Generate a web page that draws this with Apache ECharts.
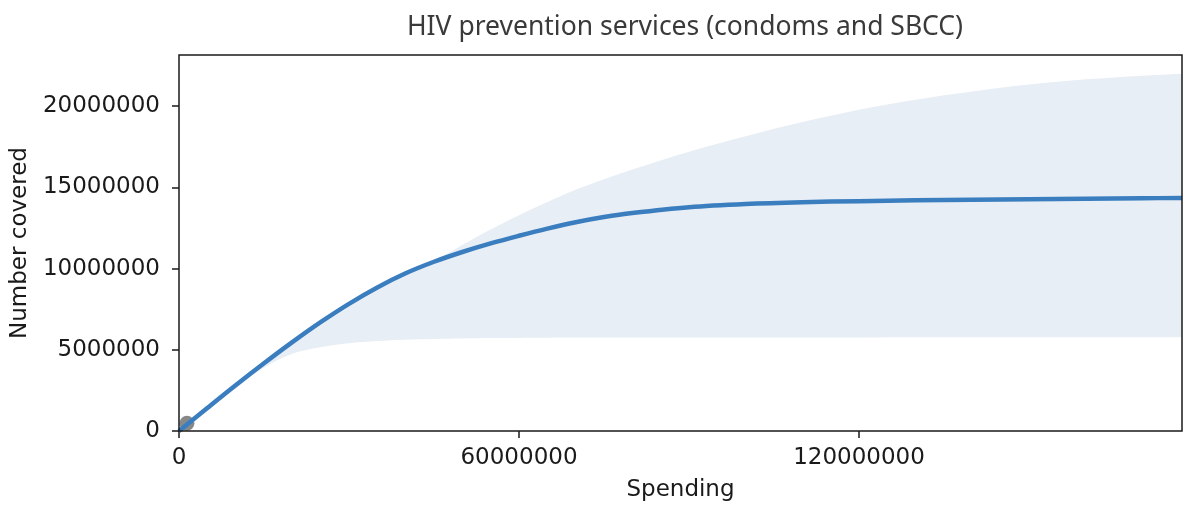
<!DOCTYPE html>
<html>
<head>
<meta charset="utf-8">
<script src="https://cdn.jsdelivr.net/npm/echarts@6/dist/echarts.min.js"></script>
<style>
  html, body { margin: 0; padding: 0; background: #fff; }
  #chart { width: 1184px; height: 507px; }
</style>
</head>
<body>
<div id="chart"></div>
<script>
// Spending grid (USD) shared by the fitted curve and its uncertainty band
const spending = [
  0, 5e6, 10e6, 15e6, 20e6, 25e6, 30e6, 35e6, 40e6, 45e6, 50e6, 55e6, 60e6,
  65e6, 70e6, 75e6, 80e6, 90e6, 100e6, 110e6, 120e6, 130e6, 140e6, 150e6,
  160e6, 170e6, 177e6
];
// Fitted number covered
const covered = [
  0, 1.42e6, 2.82e6, 4.17e6, 5.47e6, 6.7e6, 7.83e6, 8.84e6, 9.71e6, 10.42e6, 11.02e6, 11.55e6, 12.02e6,
  12.46e6, 12.85e6, 13.17e6, 13.42e6, 13.78e6, 13.98e6, 14.09e6, 14.15e6, 14.2e6, 14.24e6, 14.27e6,
  14.3e6, 14.33e6, 14.35e6
];
// Upper edge of the uncertainty band
const bandUpper = [
  0, 1.4e6, 2.78e6, 4.12e6, 5.32e6, 6.5e6, 7.63e6, 8.66e6, 9.6e6, 10.45e6, 11.45e6, 12.4e6, 13.28e6,
  14.1e6, 14.85e6, 15.5e6, 16.1e6, 17.2e6, 18.15e6, 19.02e6, 19.78e6, 20.4e6, 20.9e6, 21.33e6,
  21.65e6, 21.88e6, 22.0e6
];
// Lower edge of the uncertainty band
const bandLower = [
  0, 1.3e6, 2.65e6, 3.9e6, 4.75e6, 5.15e6, 5.4e6, 5.54e6, 5.62e6, 5.67e6, 5.7e6, 5.72e6, 5.73e6,
  5.74e6, 5.75e6, 5.75e6, 5.75e6, 5.76e6, 5.76e6, 5.76e6, 5.76e6, 5.77e6, 5.77e6, 5.77e6,
  5.77e6, 5.77e6, 5.77e6
];
// Current (observed) spending and coverage
const currentPoint = [1.4e6, 0.48e6];

const xTicks = [0, 60000000, 120000000];
const yTicks = [0, 5000000, 10000000, 15000000, 20000000];

const curvePoints = spending.map((x, i) => [x, covered[i]]);
const upperPoints = spending.map((x, i) => [x, bandUpper[i]]);
const lowerPoints = spending.map((x, i) => [x, bandLower[i]]);

const tickFont = { fontFamily: 'DejaVu Sans', fontSize: 23, color: '#1a1a1a' };
const SMOOTH = 0.35;

const chart = echarts.init(document.getElementById('chart'), null, { renderer: 'canvas' });
chart.setOption({
  animation: false,
  backgroundColor: '#ffffff',
  title: {
    text: 'HIV prevention services (condoms and SBCC)',
    left: 680,
    textAlign: 'center',
    top: 9,
    textStyle: { fontFamily: 'Noto Sans', fontWeight: 'normal', fontSize: 26.5, color: '#3a3a3a' }
  },
  grid: {
    left: 179, right: 2, top: 55, bottom: 74, z: 10,
    show: true, borderColor: '#1a1a1a', borderWidth: 1.5, backgroundColor: 'transparent'
  },
  xAxis: {
    type: 'value',
    min: 0, max: 177000000, interval: 60000000,
    name: 'Spending',
    nameLocation: 'middle',
    nameGap: 48,
    nameTextStyle: tickFont,
    axisLine: { show: false },
    axisTick: { show: true, length: 7, inside: false, lineStyle: { color: '#1a1a1a', width: 1.5 }, customValues: xTicks },
    axisLabel: Object.assign({ margin: 16, customValues: xTicks, formatter: v => String(v) }, tickFont),
    splitLine: { show: false }
  },
  yAxis: {
    type: 'value',
    min: 0, max: 23150000, interval: 5000000,
    name: 'Number covered',
    nameLocation: 'middle',
    nameGap: 147,
    nameTextStyle: tickFont,
    axisLine: { show: false },
    axisTick: { show: true, length: 7, inside: false, lineStyle: { color: '#1a1a1a', width: 1.5 }, customValues: yTicks },
    axisLabel: Object.assign({ margin: 19, customValues: yTicks, formatter: v => String(v) }, tickFont),
    splitLine: { show: false }
  },
  series: [
    {
      // band: filled from its upper edge down to the axis
      type: 'line',
      data: upperPoints,
      smooth: SMOOTH,
      showSymbol: false,
      lineStyle: { opacity: 0 },
      areaStyle: { color: '#e8eef5', opacity: 1 },
      z: 1,
      silent: true
    },
    {
      // below the lower edge the plot stays white
      type: 'line',
      data: lowerPoints,
      smooth: SMOOTH,
      showSymbol: false,
      lineStyle: { opacity: 0 },
      areaStyle: { color: '#ffffff', opacity: 1 },
      z: 1,
      silent: true
    },
    {
      type: 'scatter',
      data: [currentPoint],
      symbolSize: 15,
      itemStyle: { color: '#6b6b6b' },
      z: 2,
      silent: true
    },
    {
      type: 'line',
      data: curvePoints,
      smooth: SMOOTH,
      showSymbol: false,
      lineStyle: { color: '#3a7ebf', width: 4.5 },
      z: 3,
      silent: true
    }
  ]
});
</script>
</body>
</html>
